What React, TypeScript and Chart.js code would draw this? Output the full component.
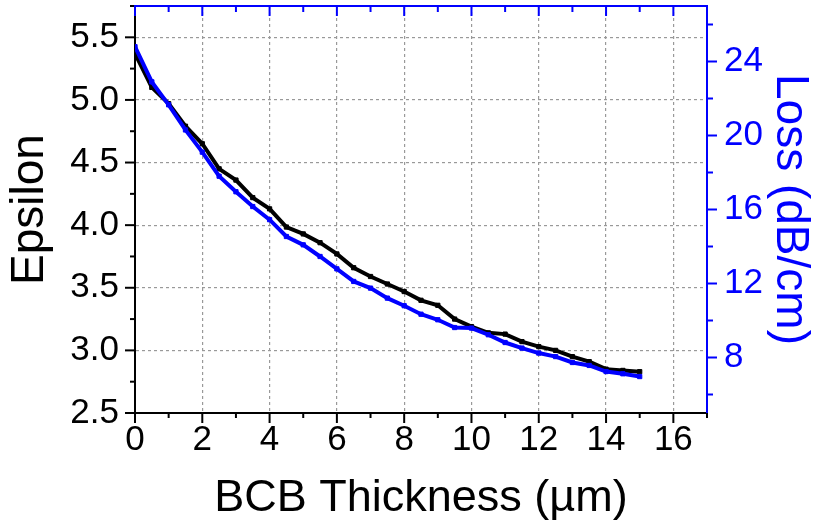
import React, { useEffect, useRef } from 'react';
import { Chart, registerables } from 'chart.js';

Chart.register(...registerables);

// ---- data ----
const thickness = [0, 0.5, 1, 1.5, 2, 2.5, 3, 3.5, 4, 4.5, 5, 5.5, 6, 6.5, 7, 7.5, 8, 8.5, 9, 9.5, 10, 10.5, 11, 11.5, 12, 12.5, 13, 13.5, 14, 14.5, 15];
const epsilon = [5.37, 5.10, 4.97, 4.79, 4.65, 4.45, 4.36, 4.22, 4.13, 3.985, 3.93, 3.86, 3.77, 3.66, 3.59, 3.53, 3.47, 3.40, 3.36, 3.25, 3.19, 3.14, 3.13, 3.07, 3.03, 3.00, 2.95, 2.91, 2.85, 2.84, 2.83];
const loss = [24.8, 22.9, 21.66, 20.3, 19.1, 17.8, 16.96, 16.16, 15.45, 14.54, 14.09, 13.46, 12.79, 12.11, 11.75, 11.21, 10.8, 10.34, 10.04, 9.62, 9.59, 9.23, 8.81, 8.51, 8.24, 8.05, 7.73, 7.57, 7.24, 7.12, 6.97];

// ---- ticks ----
const xTicks = [0, 2, 4, 6, 8, 10, 12, 14, 16];
const xMinorTicks = [1, 3, 5, 7, 9, 11, 13, 15, 17];
const epsTicks = [2.5, 3.0, 3.5, 4.0, 4.5, 5.0, 5.5];
const epsMinorTicks = [2.75, 3.25, 3.75, 4.25, 4.75, 5.25, 5.75];
const lossTicks = [8, 12, 16, 20, 24];
const lossMinorTicks = [6, 10, 14, 18, 22, 26];
const xRange = [0, 17];
const epsRange = [2.5, 5.75];
const lossRange = [5, 27];

const xTitle = 'BCB Thickness (µm)';
const epsTitle = 'Epsilon';
const lossTitle = 'Loss (dB/cm)';

const BLUE = '#0000ff';
const BLACK = '#000000';
const GRID = '#999999';
const FONT = "'Liberation Sans', Arial, sans-serif";

const tickMarks = {
  id: 'tickMarks',
  afterDraw(chart: any) {
    const { ctx, chartArea: a, scales } = chart;
    const sx = scales.x, sy = scales.y, sy1 = scales.y1;
    ctx.save();
    ctx.lineWidth = 2;
    ctx.lineCap = 'butt';
    const seg = (x1: number, y1: number, x2: number, y2: number) => {
      ctx.beginPath();
      ctx.moveTo(x1, y1);
      ctx.lineTo(x2, y2);
      ctx.stroke();
    };
    // bottom (black, outward)
    ctx.strokeStyle = BLACK;
    for (const v of xTicks) { const p = sx.getPixelForValue(v); seg(p, a.bottom, p, a.bottom + 10); }
    for (const v of xMinorTicks) { const p = sx.getPixelForValue(v); seg(p, a.bottom, p, a.bottom + 5); }
    // left (black, outward)
    for (const v of epsTicks) { const p = sy.getPixelForValue(v); seg(a.left - 10, p, a.left, p); }
    for (const v of epsMinorTicks) { const p = sy.getPixelForValue(v); seg(a.left - 5, p, a.left, p); }
    // right (blue, outward)
    ctx.strokeStyle = BLUE;
    for (const v of lossTicks) { const p = sy1.getPixelForValue(v); seg(a.right, p, a.right + 10, p); }
    for (const v of lossMinorTicks) { const p = sy1.getPixelForValue(v); seg(a.right, p, a.right + 6, p); }
    // top border (blue) with inward ticks
    seg(a.left - 1, a.top, a.right + 1, a.top);
    for (const v of xTicks) { const p = sx.getPixelForValue(v); seg(p, a.top, p, a.top + 10); }
    for (const v of xMinorTicks) { const p = sx.getPixelForValue(v); seg(p, a.top, p, a.top + 6); }
    ctx.restore();
  },
};

export default function App() {
  const ref = useRef<HTMLCanvasElement | null>(null);
  useEffect(() => {
    if (!ref.current) return;
    Chart.defaults.font.family = FONT;
    const chart = new Chart(ref.current, {
      type: 'line',
      data: {
        datasets: [
          {
            label: 'Loss',
            data: thickness.map((t, i) => ({ x: t, y: loss[i] })),
            yAxisID: 'y1',
            borderColor: BLUE,
            backgroundColor: BLUE,
            borderWidth: 4,
            pointStyle: 'rect',
            pointRadius: 3,
            pointBorderWidth: 1,
            pointBorderColor: BLUE,
            pointBackgroundColor: BLUE,
            tension: 0,
          },
          {
            label: 'Epsilon',
            data: thickness.map((t, i) => ({ x: t, y: epsilon[i] })),
            yAxisID: 'y',
            borderColor: BLACK,
            backgroundColor: BLACK,
            borderWidth: 4,
            pointStyle: 'rect',
            pointRadius: 3,
            pointBorderWidth: 1,
            pointBorderColor: BLACK,
            pointBackgroundColor: BLACK,
            tension: 0,
          },
        ],
      },
      options: {
        responsive: false,
        animation: false,
        layout: { padding: { top: 6, left: 0, right: 0, bottom: 0 } },
        plugins: { legend: { display: false }, tooltip: { enabled: false } },
        scales: {
          x: {
            type: 'linear',
            position: 'bottom',
            min: xRange[0],
            max: xRange[1],
            afterBuildTicks: (s: any) => { s.ticks = xTicks.map((v) => ({ value: v })); },
            afterFit: (s: any) => { s.height = 118; s.paddingLeft = 0; s.paddingRight = 0; },
            grid: { color: GRID, lineWidth: 1.2, drawTicks: false },
            border: { display: true, color: BLACK, width: 2, dash: [3, 3] },
            ticks: { color: BLACK, font: { size: 35 }, padding: 6, maxRotation: 0, autoSkip: false, callback: (v: any) => String(v) },
            title: { display: true, text: xTitle, color: BLACK, font: { size: 45 }, padding: { top: 0, bottom: 5 } },
          },
          y: {
            type: 'linear',
            position: 'left',
            min: epsRange[0],
            max: epsRange[1],
            afterBuildTicks: (s: any) => { s.ticks = epsTicks.map((v) => ({ value: v })); },
            afterFit: (s: any) => { s.width = 135; s.paddingTop = 0; s.paddingBottom = 0; },
            grid: { color: GRID, lineWidth: 1.2, drawTicks: false },
            border: { display: true, color: BLACK, width: 2, dash: [3, 3] },
            ticks: { color: BLACK, font: { size: 35 }, padding: 16, autoSkip: false, callback: (v: any) => Number(v).toFixed(1) },
            title: { display: true, text: epsTitle, color: BLACK, font: { size: 46 }, padding: { top: 3, bottom: 0 } },
          },
          y1: {
            type: 'linear',
            position: 'right',
            min: lossRange[0],
            max: lossRange[1],
            afterBuildTicks: (s: any) => { s.ticks = lossTicks.map((v) => ({ value: v })); },
            afterFit: (s: any) => { s.width = 110; s.paddingTop = 0; s.paddingBottom = 0; },
            grid: { drawOnChartArea: false, drawTicks: false },
            border: { display: true, color: BLUE, width: 2 },
            ticks: { color: BLUE, font: { size: 35 }, padding: 17, autoSkip: false, callback: (v: any) => String(v) },
            title: { display: true, text: lossTitle, color: BLUE, font: { size: 46 }, padding: { top: 0, bottom: 0 } },
          },
        },
      },
      plugins: [tickMarks],
    } as any);
    return () => chart.destroy();
  }, []);
  return (
    <div style={{ position: 'absolute', left: 0, top: 0, width: 817, height: 531, background: '#fff' }}>
      <canvas ref={ref} width={817} height={531} />
    </div>
  );
}
